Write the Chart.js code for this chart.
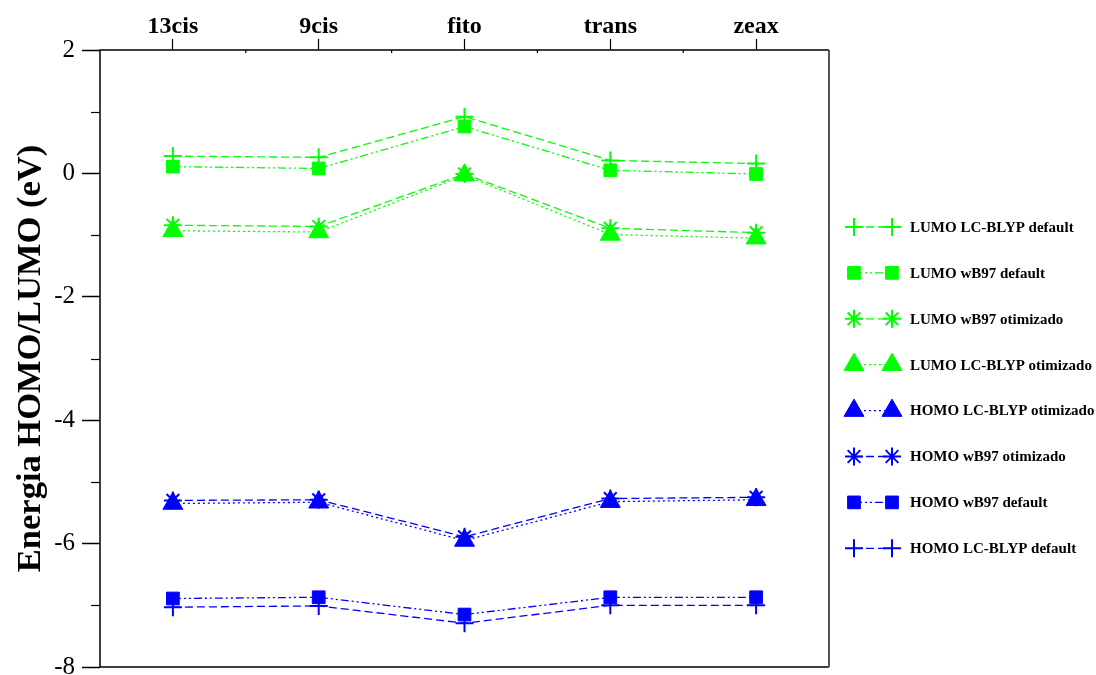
<!DOCTYPE html>
<html>
<head>
<meta charset="utf-8">
<script src="https://cdn.jsdelivr.net/npm/chart.js@4.4.0/dist/chart.umd.min.js"></script>
<style>
  html, body { margin: 0; background: #fff; }
</style>
</head>
<body>
<canvas id="myChart" width="1096" height="675"></canvas>
<script>
// molecules on the x axis
const molecules = ['13cis', '9cis', 'fito', 'trans', 'zeax'];

// orbital energies (eV)
const lumoLcBlypDefault = [0.28, 0.26, 0.92, 0.21, 0.16];
const lumoWb97Default = [0.11, 0.08, 0.76, 0.05, -0.01];
const lumoWb97Otimizado = [-0.84, -0.86, -0.01, -0.89, -0.96];
const lumoLcBlypOtimizado = [-0.93, -0.95, -0.03, -0.99, -1.05];
const homoLcBlypOtimizado = [-5.35, -5.33, -5.95, -5.32, -5.29];
const homoWb97Otimizado = [-5.30, -5.29, -5.89, -5.27, -5.25];
const homoWb97Default = [-6.89, -6.87, -7.15, -6.87, -6.87];
const homoLcBlypDefault = [-7.03, -7.01, -7.29, -7.00, -7.00];

const yTicks = [2, 0, -2, -4, -6, -8];

const GREEN = '#00ff00';
const BLUE = '#0000ff';
const SERIF = '"Liberation Serif", "Times New Roman", serif';

// line dash per marker type
const DASH = [8, 4];
const DASH_DOT_DOT = [8, 3, 2, 3, 2, 3];
const DOT = [2, 3];

function serie(label, data, color, pointStyle, dash, radius) {
  const filled = pointStyle === 'rect' || pointStyle === 'triangle';
  return {
    label: label,
    data: data,
    borderColor: color,
    backgroundColor: color,
    borderWidth: 1.3,
    borderDash: dash,
    pointStyle: pointStyle,
    pointRadius: radius,
    pointHoverRadius: radius,
    pointBorderWidth: filled ? 1 : 2,
    pointBackgroundColor: color,
    pointBorderColor: color,
    fill: false,
    tension: 0
  };
}

const datasets = [
  serie('LUMO LC-BLYP default', lumoLcBlypDefault, GREEN, 'cross', DASH, 9),
  serie('LUMO wB97 default', lumoWb97Default, GREEN, 'rect', DASH_DOT_DOT, 9),
  serie('LUMO wB97 otimizado', lumoWb97Otimizado, GREEN, 'star', DASH, 9),
  serie('LUMO LC-BLYP otimizado', lumoLcBlypOtimizado, GREEN, 'triangle', DOT, 11.5),
  serie('HOMO LC-BLYP otimizado', homoLcBlypOtimizado, BLUE, 'triangle', DOT, 11.5),
  serie('HOMO wB97 otimizado', homoWb97Otimizado, BLUE, 'star', DASH, 9),
  serie('HOMO wB97 default', homoWb97Default, BLUE, 'rect', DASH_DOT_DOT, 9),
  serie('HOMO LC-BLYP default', homoLcBlypDefault, BLUE, 'cross', DASH, 9)
];

// box around the plot plus the short minor ticks
const framePlugin = {
  id: 'frame',
  afterDraw(chart) {
    const ctx = chart.ctx;
    const a = chart.chartArea;
    const x = chart.scales.x;
    const y = chart.scales.y;
    ctx.save();
    ctx.strokeStyle = '#000';
    ctx.lineWidth = 1.5;
    ctx.beginPath();
    ctx.moveTo(a.right, a.top);
    ctx.lineTo(a.left, a.top);
    ctx.lineTo(a.left, a.bottom);
    ctx.lineTo(a.right, a.bottom);
    ctx.stroke();
    ctx.strokeStyle = '#555';
    ctx.lineWidth = 2;
    ctx.beginPath();
    ctx.moveTo(a.right, a.top);
    ctx.lineTo(a.right, a.bottom);
    ctx.stroke();

    ctx.strokeStyle = '#000';
    ctx.lineWidth = 1.2;
    for (let v = -7; v <= 1; v += 2) {
      const py = Math.round(y.getPixelForValue(v)) + 0.5;
      ctx.beginPath();
      ctx.moveTo(a.left - 9, py);
      ctx.lineTo(a.left, py);
      ctx.stroke();
    }
    for (let i = 0; i < molecules.length - 1; i++) {
      const px = (x.getPixelForValue(i) + x.getPixelForValue(i + 1)) / 2;
      ctx.beginPath();
      ctx.moveTo(px, a.top);
      ctx.lineTo(px, a.top + 3);
      ctx.stroke();
    }
    ctx.restore();
  }
};

// legend on the right: line segment with a marker at each end
const legendPlugin = {
  id: 'sideLegend',
  afterDraw(chart) {
    const ctx = chart.ctx;
    const x0 = 854, x1 = 892, xText = 910;
    const top = 227, step = 45.9;
    ctx.save();
    chart.data.datasets.forEach((ds, i) => {
      const yy = top + i * step;
      ctx.strokeStyle = ds.borderColor;
      ctx.lineWidth = 1.3;
      ctx.setLineDash(ds.borderDash);
      ctx.beginPath();
      ctx.moveTo(x0, yy);
      ctx.lineTo(x1, yy);
      ctx.stroke();
      ctx.setLineDash([]);
      const opts = {
        pointStyle: ds.pointStyle,
        radius: ds.pointRadius,
        borderWidth: ds.pointBorderWidth,
        rotation: 0
      };
      ctx.fillStyle = ds.pointBackgroundColor;
      ctx.strokeStyle = ds.pointBorderColor;
      ctx.lineWidth = ds.pointBorderWidth;
      Chart.helpers.drawPoint(ctx, opts, x0, yy);
      Chart.helpers.drawPoint(ctx, opts, x1, yy);
      ctx.fillStyle = '#000';
      ctx.font = 'bold 15px ' + SERIF;
      ctx.textAlign = 'left';
      ctx.textBaseline = 'middle';
      ctx.fillText(ds.label, xText, yy + 1);
    });
    ctx.restore();
  }
};

const ctx = document.getElementById('myChart').getContext('2d');

const myChart = new Chart(ctx, {
  type: 'line',
  data: {
    labels: molecules,
    datasets: datasets
  },
  options: {
    responsive: false,
    animation: false,
    devicePixelRatio: 1,
    layout: {
      autoPadding: false,
      padding: { left: 0, top: 0, right: 267, bottom: 8 }
    },
    plugins: {
      legend: { display: false },
      tooltip: { enabled: false }
    },
    scales: {
      x: {
        type: 'category',
        position: 'top',
        offset: true,
        border: { display: false },
        grid: {
          drawOnChartArea: false,
          offset: false,
          tickLength: 11,
          tickColor: '#000',
          tickWidth: 1.2
        },
        ticks: {
          color: '#000',
          padding: -2,
          maxRotation: 0,
          font: { family: SERIF, size: 24, weight: 'bold' }
        },
        afterFit(scale) {
          scale.height = 50;
          scale.paddingLeft = 0;
          scale.paddingRight = 0;
        }
      },
      y: {
        min: -8,
        max: 2,
        border: { display: false },
        grid: {
          drawOnChartArea: false,
          tickLength: 18,
          tickWidth: 1.5,
          tickColor: (c) => (c.tick && c.tick.value % 2 === 0) ? '#000' : 'rgba(0,0,0,0)'
        },
        ticks: {
          stepSize: 1,
          color: '#000',
          padding: 7,
          font: { family: SERIF, size: 25 },
          callback: (v) => yTicks.includes(v) ? String(v) : ''
        },
        title: {
          display: true,
          text: 'Energia HOMO/LUMO (eV)',
          color: '#000',
          padding: { top: 10, bottom: 0 },
          font: { family: SERIF, size: 34.5, weight: 'bold' }
        },
        afterFit(scale) {
          scale.width = 100;
          scale.paddingTop = 0;
          scale.paddingBottom = 0;
        }
      }
    }
  },
  plugins: [framePlugin, legendPlugin]
});
</script>
</body>
</html>
